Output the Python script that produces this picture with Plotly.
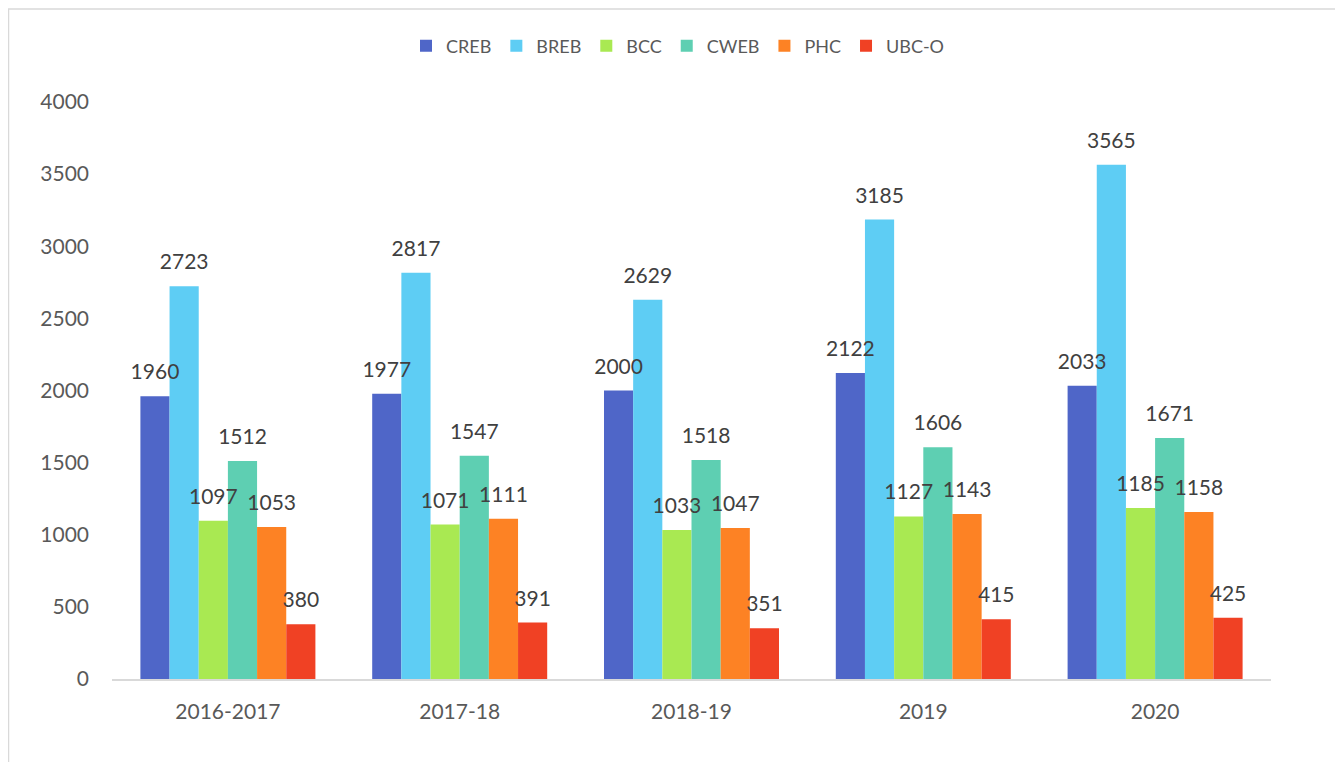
import plotly.graph_objects as go

categories = ["2016-2017", "2017-18", "2018-19", "2019", "2020"]
series_names = ["CREB", "BREB", "BCC", "CWEB", "PHC", "UBC-O"]
creb = [1960, 1977, 2000, 2122, 2033]
breb = [2723, 2817, 2629, 3185, 3565]
bcc = [1097, 1071, 1033, 1127, 1185]
cweb = [1512, 1547, 1518, 1606, 1671]
phc = [1053, 1111, 1047, 1143, 1158]
ubco = [380, 391, 351, 415, 425]
y_ticks = [0, 500, 1000, 1500, 2000, 2500, 3000, 3500, 4000]

colors = ["#4f66c8", "#5ecdf4", "#a9e952", "#5ecfb2", "#fd8224", "#f04124"]
series_values = [creb, breb, bcc, cweb, phc, ubco]

# page body has an 8px margin; compensate so the figure fills the 1343x762 view
OFF = 8
W, H = 1343 - OFF, 762 - OFF
l, r, t, b = 112 - OFF, 72, 102 - OFF, 83
pw, ph = W - l - r, H - t - b
YMAX = 4000

def px_x(p):
    return (p - OFF - l) / pw

def px_y(p):
    return (H - b - (p - OFF)) / ph

# gap (in px) between the bar top and its value label, converted to data units
label_pad = 10 * YMAX / ph

fig = go.Figure()
for name, vals, col in zip(series_names, series_values, colors):
    fig.add_trace(go.Bar(
        name=name, x=categories, y=vals, offsetgroup=name,
        marker=dict(color=col, line=dict(width=0)),
        hoverinfo="x+y+name",
    ))
# value labels drawn on top of all bars (invisible carriers in the same slots)
for name, vals in zip(series_names, series_values):
    fig.add_trace(go.Bar(
        name=name + " label", x=categories, y=[label_pad] * len(vals), base=vals,
        offsetgroup=name, showlegend=False, hoverinfo="skip",
        marker=dict(color="rgba(0,0,0,0)", line=dict(width=0)),
        text=[str(v) for v in vals], textposition="outside", constraintext="none",
        textfont=dict(size=21, color="#404040", family="Lato"),
        cliponaxis=False,
    ))

fig.add_shape(type="rect", xref="paper", yref="paper",
              x0=px_x(8.5), x1=px_x(1341), y0=px_y(790), y1=px_y(9),
              line=dict(color="#d9d9d9", width=1.5), fillcolor="rgba(0,0,0,0)",
              layer="below")

fig.update_layout(
    width=W, height=H,
    margin=dict(l=l, r=r, t=t, b=b),
    barmode="group", bargap=0.245, bargroupgap=0,
    plot_bgcolor="white", paper_bgcolor="white",
    font=dict(family="Lato", size=18, color="#595959"),
    legend=dict(orientation="h", x=px_x(678), xanchor="center", y=px_y(46), yanchor="middle",
                font=dict(size=18, color="#595959"), itemwidth=30,
                traceorder="normal"),
    xaxis=dict(showline=True, linecolor="#d9d9d9", linewidth=2, ticks="",
               showgrid=False, ticklabelstandoff=13,
               tickfont=dict(size=21, color="#595959")),
    yaxis=dict(range=[0, YMAX], tickvals=y_ticks, showgrid=False, zeroline=False,
               showline=False, ticks="", ticklabelstandoff=22,
               tickfont=dict(size=21, color="#595959")),
)

fig.write_html("out.html")
